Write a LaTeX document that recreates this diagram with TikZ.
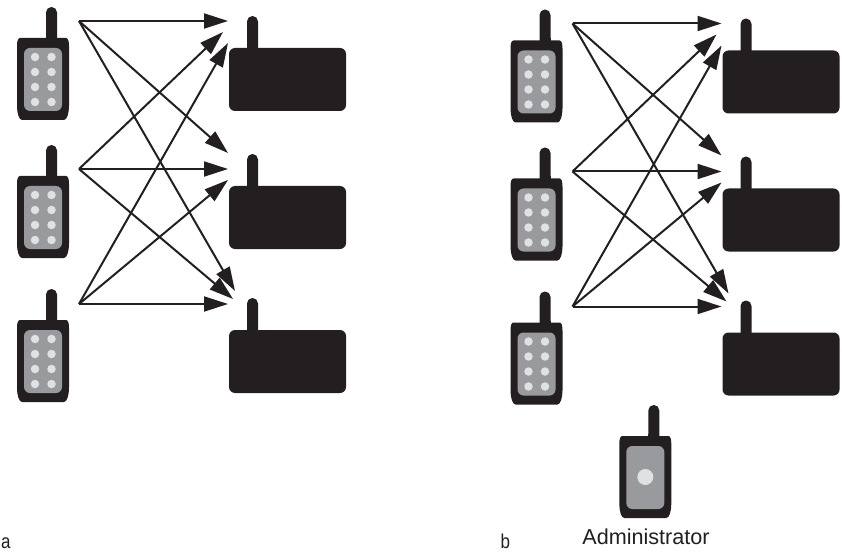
\documentclass[tikz,border=0pt]{standalone}
\usepackage{fontspec}
\setmainfont{Liberation Sans}
\usetikzlibrary{arrows.meta}
\definecolor{ink}{HTML}{231F20}
\definecolor{midgrey}{HTML}{989A9D}
\definecolor{lightgrey}{HTML}{E0E1E2}
\tikzset{
  link/.style={draw=ink,line width=2pt,-{Triangle[length=24pt,width=15pt]},shorten >=0pt},
  mast/.style={draw=none,fill=ink,rounded corners=5.4pt},
  dotmark/.style={circle,fill=lightgrey,inner sep=0pt,minimum size=8.5pt},
  bigdot/.style={circle,fill=lightgrey,inner sep=0pt,minimum size=16pt},
  screenbox/.style={fill=midgrey,rounded corners=6pt},
  panellabel/.style={font=\fontsize{20}{22}\selectfont,text=ink,inner sep=0pt,anchor=base west,xscale=.85},
  adminlabel/.style={font=\fontsize{21.6}{24}\selectfont,text=ink,inner sep=0pt,anchor=base},
  case/.pic={
    \fill[ink] (3,0) -- (49,0) .. controls (51,0) and (52,3) .. (52,8) -- (52,68)
       .. controls (52,75) and (50,82) .. (47,82) -- (5,82)
       .. controls (2,82) and (0,75) .. (0,68) -- (0,8)
       .. controls (0,3) and (1,0) .. (3,0) -- cycle;
    \fill[mast] (29,6) rectangle (40,-31);
    \fill[ink] (29,-2) rectangle (40,2);
  },
  handset/.pic={
    \pic {case};
    \fill[screenbox] (7,10) rectangle (45,73);
    \foreach \yy in {19,34,49,64}{
      \node[dotmark] at (18,\yy) {};
      \node[dotmark] at (34.5,\yy) {};
    }
  },
  adminset/.pic={
    \pic {case};
    \fill[screenbox] (7,10) rectangle (45,73);
    \node[bigdot] at (26,41) {};
  },
  router/.pic={
    \fill[mast] (18,6) rectangle (29,-32);
    \fill[ink,rounded corners=6pt] (0,0) rectangle (117,63);
  }
}
\begin{document}
\begin{tikzpicture}[x=1pt,y=-1pt]
\useasboundingbox (0,0) rectangle (842,553);
% panel a
\pic at (17,38)  {handset};
\pic at (17,176) {handset};
\pic at (17,320) {handset};
\pic at (229,48)  {router};
\pic at (229,186) {router};
\pic at (229,330) {router};
\coordinate (a1) at (79,21);
\coordinate (a2) at (79,169);
\coordinate (a3) at (79,304);
\coordinate (a11) at (228,21);
\coordinate (a12) at (228,153);
\coordinate (a13) at (235,291);
\coordinate (a21) at (223,32);
\coordinate (a22) at (228,169);
\coordinate (a23) at (233,299);
\coordinate (a31) at (228,43);
\coordinate (a32) at (228,180);
\coordinate (a33) at (228,304);
\foreach \s/\t in {1/1,1/2,1/3,2/1,2/2,2/3,3/1,3/2,3/3}
  \draw[link] (a\s) -- (a\s\t);
\node[panellabel] (la) at (1,548.5) {a};
% panel b
\begin{scope}[shift={(493.5,2.5)}]
\pic at (17,38)  {handset};
\pic at (17,176) {handset};
\pic at (17,320) {handset};
\pic at (229,48)  {router};
\pic at (229,186) {router};
\pic at (229,330) {router};
\coordinate (b1) at (79,21);
\coordinate (b2) at (79,169);
\coordinate (b3) at (79,304);
\coordinate (b11) at (228,21);
\coordinate (b12) at (228,153);
\coordinate (b13) at (235,291);
\coordinate (b21) at (223,32);
\coordinate (b22) at (228,169);
\coordinate (b23) at (233,299);
\coordinate (b31) at (228,43);
\coordinate (b32) at (228,180);
\coordinate (b33) at (228,304);
\foreach \s/\t in {1/1,1/2,1/3,2/1,2/2,2/3,3/1,3/2,3/3}
  \draw[link] (b\s) -- (b\s\t);
\end{scope}
\pic at (619.3,436) {adminset};
\node[panellabel] (lb) at (500.5,548.5) {b};
\node[adminlabel] (admin) at (646,544) {Administrator};
\end{tikzpicture}
\end{document}
